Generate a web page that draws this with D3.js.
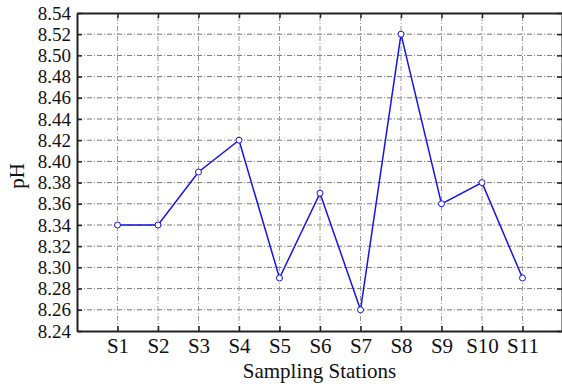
<!DOCTYPE html>
<html>
<head>
<meta charset="utf-8">
<script src="https://cdn.jsdelivr.net/npm/d3@7"></script>
<style>
  body { margin: 0; background: white; }
  svg, svg text { font-family: "Liberation Serif", "Times New Roman", "DejaVu Serif", serif; }
  svg { display: block; }
</style>
</head>
<body>
<svg width="562" height="387"></svg>
<script>
const stations = ["S1", "S2", "S3", "S4", "S5", "S6", "S7", "S8", "S9", "S10", "S11"];
const phValues = [8.34, 8.34, 8.39, 8.42, 8.29, 8.37, 8.26, 8.52, 8.36, 8.38, 8.29];
const yTicks = d3.range(8.24, 8.5401, 0.02);

const serif = "Liberation Serif, Times New Roman, DejaVu Serif, serif";

let graphic = d3.select("svg"),
    width = +graphic.attr("width"),
    height = +graphic.attr("height");

const margin = {left: 77, top: 13, right: 0, bottom: 56};

let x = d3.scaleLinear()
    .domain([0, 12])
    .range([margin.left, width + 1]);

let y = d3.scaleLinear()
    .domain([8.24, 8.54])
    .range([height - margin.bottom, margin.top]);

let xPos = (d, i) => x(i + 1);

// grid
let grid = graphic.append("g").attr("class", "grid");
grid.selectAll(".hgrid")
    .data(yTicks.slice(1, -1))
    .enter().append("line")
    .attr("x1", x(0)).attr("x2", x(12))
    .attr("y1", d => y(d)).attr("y2", d => y(d))
    .attr("stroke", "#777")
    .attr("stroke-width", 1)
    .attr("stroke-dasharray", "5,2,1,2");
grid.selectAll(".vgrid")
    .data(stations)
    .enter().append("line")
    .attr("x1", xPos).attr("x2", xPos)
    .attr("y1", y(8.24)).attr("y2", y(8.54))
    .attr("stroke", "#999")
    .attr("stroke-width", 1)
    .attr("stroke-dasharray", "5,2,1,2");

// axes
let xAxis = d3.axisBottom(x)
    .tickValues(d3.range(1, 12))
    .tickFormat(d => stations[d - 1])
    .tickSizeInner(-5).tickSizeOuter(0).tickPadding(7);
let xTop = d3.axisTop(x)
    .tickValues(d3.range(1, 12))
    .tickFormat("")
    .tickSizeInner(-5).tickSizeOuter(0);
let yAxis = d3.axisLeft(y)
    .tickValues(yTicks)
    .tickFormat(d3.format(".2f"))
    .tickSizeInner(-5).tickSizeOuter(0).tickPadding(6);
let yRight = d3.axisRight(y)
    .tickValues(yTicks)
    .tickFormat("")
    .tickSizeInner(-5).tickSizeOuter(0);

function styleAxis(g, size) {
    g.attr("font-family", serif).attr("font-size", size || 21);
    g.select(".domain").attr("stroke", "#222").attr("stroke-width", 2);
    g.selectAll(".tick line").attr("stroke", "#222").attr("stroke-width", 1.5);
    g.selectAll(".tick text").attr("fill", "#111");
}

graphic.append("g")
    .attr("transform", `translate(0,${y(8.24)})`)
    .call(xAxis).call(styleAxis);
graphic.append("g")
    .attr("transform", `translate(0,${y(8.54)})`)
    .call(xTop).call(styleAxis);
graphic.append("g")
    .attr("transform", `translate(${x(0)},0)`)
    .call(yAxis).call(styleAxis, 19);
graphic.append("g")
    .attr("transform", `translate(${x(12) - 1},0)`)
    .call(yRight).call(styleAxis);

// line
let line = d3.line()
    .x(xPos)
    .y(d => y(d));

graphic.append("path")
    .datum(phValues)
    .attr("fill", "none")
    .attr("stroke", "#1515e6")
    .attr("stroke-width", 1.5)
    .attr("d", line);

graphic.selectAll(".pt")
    .data(phValues)
    .enter().append("circle")
    .attr("class", "pt")
    .attr("cx", xPos)
    .attr("cy", d => y(d))
    .attr("r", 3)
    .attr("fill", "white")
    .attr("stroke", "#1515e6")
    .attr("stroke-width", 1);

// labels
graphic.append("text")
    .attr("x", (x(0) + width) / 2)
    .attr("y", 378)
    .attr("text-anchor", "middle")
    .attr("font-family", serif)
    .attr("font-size", 21)
    .attr("fill", "#111")
    .text("Sampling Stations");

graphic.append("text")
    .attr("transform", `translate(24,${(y(8.24) + y(8.54)) / 2 + 4}) rotate(-90)`)
    .attr("text-anchor", "middle")
    .attr("font-family", serif)
    .attr("font-size", 21)
    .attr("fill", "#111")
    .text("pH");
</script>
</body>
</html>
